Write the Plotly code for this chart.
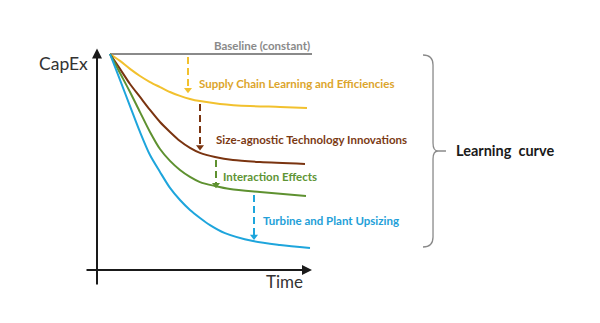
import plotly.graph_objects as go

# ---- data (time in arbitrary units, CapEx indexed to baseline = 100) ----
baseline_t = [0.65, 10.75]
baseline_c = [100, 100]

supply_t = [0.65, 1.15, 1.65, 2.15, 2.65, 3.15, 3.65, 4.15, 4.65, 5.15, 6.15, 7.65, 9.15, 10.5]
supply_c = [100, 96.8, 93.1, 89.8, 87.0, 84.7, 82.4, 80.6, 79.2, 78.2, 76.9, 75.9, 75.5, 75.0]

tech_t = [0.65, 1.15, 1.65, 2.15, 2.65, 3.15, 3.65, 4.15, 4.65, 5.15, 5.9, 6.8, 8.15, 10.4]
tech_c = [100, 93.1, 86.1, 80.1, 74.1, 68.5, 63.9, 59.7, 56.5, 54.2, 52.3, 50.9, 50.0, 49.1]

inter_t = [0.65, 1.15, 1.65, 2.15, 2.65, 3.15, 3.65, 4.15, 4.65, 5.15, 5.9, 6.65, 8.15, 10.45]
inter_c = [100, 91.2, 82.4, 73.1, 63.9, 56.0, 50.5, 46.3, 43.1, 40.7, 38.9, 37.5, 36.1, 34.3]

upsize_t = [0.65, 1.15, 1.65, 2.15, 2.65, 3.15, 3.65, 4.15, 4.65, 5.15, 5.65, 6.4, 7.8, 9.15, 10.65]
upsize_c = [100, 88.0, 75.9, 63.9, 53.2, 45.4, 38.0, 32.4, 27.8, 24.1, 20.8, 17.1, 13.4, 11.6, 10.2]

# step arrows: x position, start and end CapEx
arrow_t = [4.55, 5.15, 5.95, 7.85]
arrow_top = [98.6, 76.9, 50.9, 34.7]
arrow_bot = [83.5, 57.0, 39.5, 15.5]

labels = ["Baseline (constant)", "Supply Chain Learning and Efficiencies",
          "Size-agnostic Technology Innovations", "Interaction Effects",
          "Turbine and Plant Upsizing"]
label_t = [5.75, 5.0, 5.85, 6.2, 8.2]
label_c = [104.0, 86.5, 60.6, 43.5, 23.1]

line_colors = ["#8a8a8a", "#f2c12e", "#7a3410", "#5e9130", "#1ea5dc"]
text_colors = ["#8a8a8a", "#dca52c", "#7b3a14", "#5e9435", "#23a0d8"]

FONT = "Lato"

fig = go.Figure()

series = [(baseline_t, baseline_c), (supply_t, supply_c), (tech_t, tech_c),
          (inter_t, inter_c), (upsize_t, upsize_c)]
for (t, c), col in zip(series, line_colors):
    fig.add_trace(go.Scatter(x=t, y=c, mode="lines", line=dict(color=col, width=2, shape="spline", smoothing=0.8),
                             hoverinfo="skip", showlegend=False))

arrow_cols = line_colors[1:]
for x, y0, y1, col in zip(arrow_t, arrow_top, arrow_bot, arrow_cols):
    fig.add_trace(go.Scatter(x=[x, x], y=[y0, y1], mode="lines",
                             line=dict(color=col, width=2, dash="7px,4px"),
                             hoverinfo="skip", showlegend=False))
    fig.add_trace(go.Scatter(x=[x], y=[y1], mode="markers",
                             marker=dict(symbol="triangle-down", size=7, color=col, line=dict(width=0)),
                             hoverinfo="skip", showlegend=False))

anns = []
for i, (txt, t, c) in enumerate(zip(labels, label_t, label_c)):
    anns.append(dict(x=t, y=c, text="<b>%s</b>" % txt, showarrow=False, xanchor="left", yanchor="middle",
                     font=dict(family=FONT, size=11.5, color=text_colors[i])))

# axes as arrows
anns.append(dict(x=0, y=102.5, ax=0, ay=-7.4, axref="x", ayref="y", xref="x", yref="y", text="",
                 showarrow=True, arrowhead=2, arrowsize=1, arrowwidth=2, arrowcolor="#1a1a1a", standoff=0))
anns.append(dict(x=10.75, y=0, ax=-0.6, ay=0, axref="x", ayref="y", xref="x", yref="y", text="",
                 showarrow=True, arrowhead=2, arrowsize=1, arrowwidth=2, arrowcolor="#1a1a1a", standoff=0))

anns.append(dict(x=-0.35, y=95.5, text="CapEx", showarrow=False, xanchor="right", yanchor="middle",
                 font=dict(family=FONT, size=17.5, color="#333333")))
anns.append(dict(x=10.4, y=-5.1, text="Time", showarrow=False, xanchor="right", yanchor="middle",
                 font=dict(family=FONT, size=17, color="#333333")))
anns.append(dict(x=454 / 600, y=1 - 150 / 323, xref="paper", yref="paper", text="<b>Learning  curve</b>",
                 showarrow=False, xanchor="left", yanchor="middle",
                 font=dict(family=FONT, size=14.5, color="#1a1a1a")))


def P(x, y):
    return "%.4f,%.4f" % (x / 600, 1 - y / 323)


brace = ("M " + P(423, 55) + " Q " + P(433, 55) + " " + P(433, 65) + " L " + P(433, 143) +
         " Q " + P(433, 151) + " " + P(438, 151) + " L " + P(446, 151) +
         " M " + P(438, 151) + " Q " + P(433, 151) + " " + P(433, 159) + " L " + P(433, 237) +
         " Q " + P(433, 247) + " " + P(423, 247))

fig.update_layout(
    width=600, height=323, margin=dict(l=0, r=0, t=0, b=0),
    paper_bgcolor="white", plot_bgcolor="white",
    xaxis=dict(range=[-4.85, 25.15], visible=False, fixedrange=True),
    yaxis=dict(range=[-24.54, 125], visible=False, fixedrange=True),
    annotations=anns,
    shapes=[dict(type="path", xref="paper", yref="paper", path=brace,
                 line=dict(color="#8a8a8a", width=1.3))],
    showlegend=False,
)

fig.write_html("out.html", config={"displayModeBar": False})
